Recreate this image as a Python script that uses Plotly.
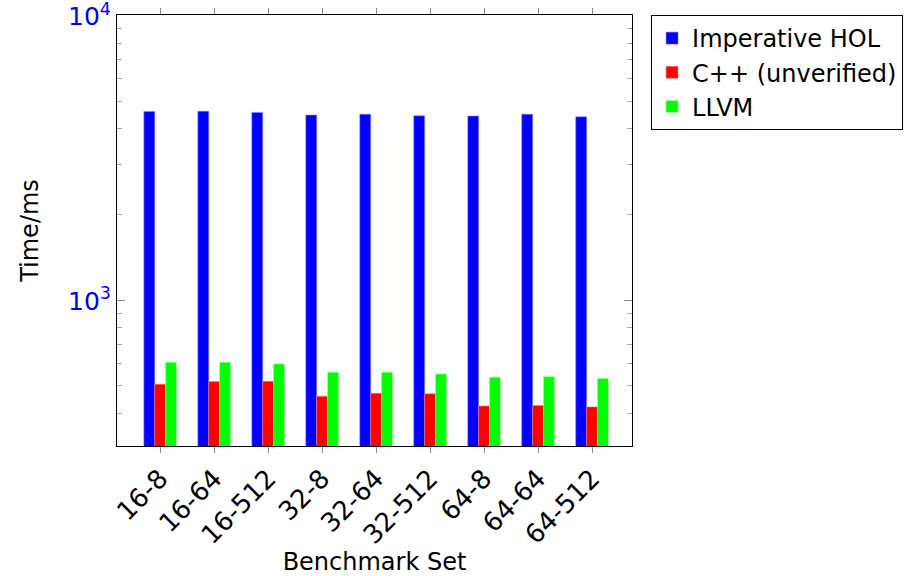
import plotly.graph_objects as go

categories = ["16-8", "16-64", "16-512", "32-8", "32-64", "32-512", "64-8", "64-64", "64-512"]
imperative_hol = [4600, 4610, 4565, 4470, 4500, 4440, 4430, 4500, 4405]
cpp_unverified = [507, 518, 519, 460, 471, 469, 425, 427, 422]
llvm = [605, 605, 597, 558, 558, 551, 536, 539, 531]

FONT = "DejaVu Sans"

fig = go.Figure()
for name, vals, col, edge in [
    ("Imperative HOL", imperative_hol, "#0000ff", "rgba(130,130,255,0.9)"),
    ("C++ (unverified)", cpp_unverified, "#ff0000", "rgba(255,130,130,0.9)"),
    ("LLVM", llvm, "#00ff00", "rgba(150,255,150,0.9)"),
]:
    fig.add_trace(go.Bar(
        x=list(range(len(categories))), y=vals, name=name,
        marker=dict(color=col, line=dict(color=edge, width=0.6)),
    ))

fig.update_layout(
    width=914, height=576,
    margin=dict(l=117, r=282, t=15, b=130, autoexpand=False),
    plot_bgcolor="white", paper_bgcolor="white",
    barmode="group", bargap=0.395, bargroupgap=0,
    font=dict(family=FONT, size=24, color="black"),
    showlegend=True,
    legend=dict(
        x=1.037, y=1.0, xanchor="left", yanchor="top",
        bordercolor="black", borderwidth=1, bgcolor="white",
        font=dict(family=FONT, size=24),
        tracegroupgap=0, itemwidth=30,
    ),
)

fig.update_xaxes(
    range=[-0.8, 8.74], automargin=True,
    tickmode="array", tickvals=list(range(len(categories))), ticktext=categories,
    tickangle=-45, ticks="outside", ticklen=6, tickcolor="#888888",
    showline=True, linecolor="black", linewidth=1, mirror="ticks",
    showgrid=False, zeroline=False,
    tickfont=dict(family=FONT, size=26),
    title=dict(text="Benchmark Set", font=dict(family=FONT, size=24), standoff=22),
)

fig.update_yaxes(
    type="log", range=[2.488, 4.0015], automargin=False,
    tickmode="array", tickvals=[1000, 10000], ticktext=["10<sup>3</sup>", "10<sup>4</sup>"],
    ticklabeloverflow="allow", ticklabelshift=1,
    ticks="inside", ticklen=8, tickcolor="#888888",
    minor=dict(ticks="inside", ticklen=5, tickcolor="#aaaaaa",
               tickmode="array",
               tickvals=[400, 500, 600, 700, 800, 900, 2000, 3000, 4000, 5000, 6000, 7000, 8000, 9000],
               showgrid=False),
    showline=True, linecolor="black", linewidth=1, mirror="ticks",
    showgrid=False, zeroline=False,
    tickfont=dict(family=FONT, size=25, color="#0000ff"),
    title=dict(text="Time/ms", font=dict(family=FONT, size=24), standoff=22),
)

fig.write_html("out.html", config={"displayModeBar": False},
               post_script="document.body.style.margin='0';")
